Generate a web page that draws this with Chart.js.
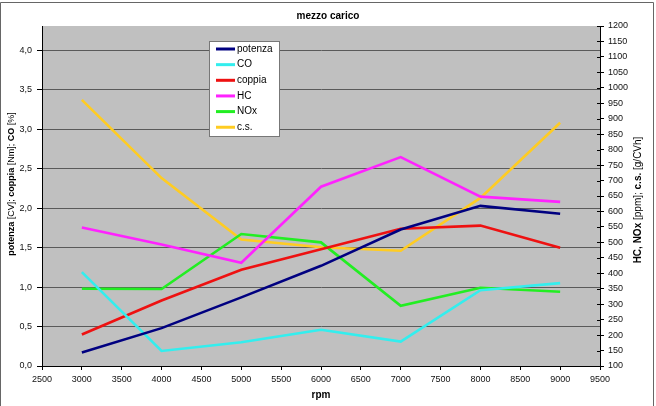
<!DOCTYPE html>
<html>
<head>
<meta charset="utf-8">
<script src="https://cdn.jsdelivr.net/npm/chart.js@4.4.0/dist/chart.umd.min.js"></script>
<style>
html,body{margin:0;padding:0;background:#fff;}
#wrap{position:relative;width:656px;height:406px;}
</style>
</head>
<body>
<div id="wrap"><canvas id="c" width="656" height="406"></canvas></div>
<script>
// ---- data ----
const rpm     = [3000, 4000, 5000, 6000, 7000, 8000, 9000];
const potenza = [0.17, 0.48, 0.87, 1.27, 1.73, 2.03, 1.93];
const CO      = [1.19, 0.19, 0.30, 0.46, 0.31, 0.96, 1.05];
const coppia  = [0.40, 0.83, 1.22, 1.48, 1.74, 1.78, 1.50];
const HC      = [548, 493, 434, 680, 776, 648, 631];
const NOx     = [350, 349, 527, 500, 295, 353, 340];
const cs      = [961, 708, 509, 484, 473, 644, 887];

const seriesNames  = ['potenza', 'CO', 'coppia', 'HC', 'NOx', 'c.s.'];
const seriesValues = [potenza, CO, coppia, HC, NOx, cs];
const seriesAxis   = ['y', 'y', 'y', 'y2', 'y2', 'y2'];
const seriesColors = ['#000080', '#33eeee', '#ee1111', '#ff22ff', '#22ee22', '#ffcc22'];

const titleText = 'mezzo carico';
const xTitle = 'rpm';
const leftTitle  = [['potenza', true], [' [CV]; ', false], ['coppia', true], [' [Nm]; ', false], ['CO', true], [' [%]', false]];
const rightTitle = [['HC, NOx', true], [' [ppm]; ', false], ['c.s.', true], [' [g/CVh]', false]];

const FF = '"Liberation Sans", Arial, sans-serif';
Chart.defaults.font.family = FF;
Chart.defaults.font.size = 9;
Chart.defaults.color = '#111';

function drawMixed(ctx, parts, cx, cy, size) {
  ctx.save();
  ctx.translate(cx, cy);
  ctx.rotate(-Math.PI / 2);
  let total = 0;
  const widths = parts.map(([t, b]) => {
    ctx.font = (b ? 'bold ' : '') + size + 'px ' + FF;
    const w = ctx.measureText(t).width; total += w; return w;
  });
  let x = -total / 2;
  ctx.textBaseline = 'middle';
  ctx.textAlign = 'left';
  ctx.fillStyle = '#000';
  parts.forEach(([t, b], i) => {
    ctx.font = (b ? 'bold ' : '') + size + 'px ' + FF;
    ctx.fillText(t, x, 0);
    x += widths[i];
  });
  ctx.restore();
}

const deco = {
  id: 'deco',
  beforeDraw(chart) {
    const { ctx, chartArea: a } = chart;
    ctx.save();
    ctx.fillStyle = '#fff';
    ctx.fillRect(0, 0, chart.width, chart.height);
    ctx.fillStyle = '#c0c0c0';
    ctx.fillRect(a.left, a.top, a.right - a.left, a.bottom - a.top);
    ctx.restore();
  },
  afterDraw(chart) {
    const { ctx, chartArea: a } = chart;
    ctx.save();
    // outer border
    ctx.strokeStyle = '#666';
    ctx.lineWidth = 1;
    ctx.beginPath();
    ctx.moveTo(0.5, chart.height + 5);
    ctx.lineTo(0.5, 2.5);
    ctx.lineTo(653.5, 2.5);
    ctx.lineTo(653.5, chart.height + 5);
    ctx.stroke();
    // inner ticks on right axis
    const y2 = chart.scales.y2;
    ctx.strokeStyle = '#000';
    ctx.beginPath();
    y2.ticks.forEach(t => {
      const yy = Math.round(y2.getPixelForValue(t.value)) + 0.5;
      ctx.moveTo(a.right - 3, yy); ctx.lineTo(a.right, yy);
    });
    ctx.stroke();
    // title
    ctx.fillStyle = '#000';
    ctx.font = 'bold 10px ' + FF;
    ctx.textAlign = 'center';
    ctx.textBaseline = 'middle';
    ctx.fillText(titleText, 328, 16);
    ctx.fillText(xTitle, (a.left + a.right) / 2, 395);
    // axis titles
    drawMixed(ctx, leftTitle, 12, 184, 9);
    drawMixed(ctx, rightTitle, 638, 200, 10);
    // legend
    const lx = 209, ly = 41, lw = 70, lh = 95;
    ctx.fillStyle = '#fff';
    ctx.fillRect(lx, ly, lw, lh);
    ctx.strokeStyle = '#777';
    ctx.strokeRect(lx + 0.5, ly + 0.5, lw, lh);
    ctx.font = '10px ' + FF;
    ctx.textAlign = 'left';
    ctx.textBaseline = 'middle';
    chart.data.datasets.forEach((ds, i) => {
      const yy = 49 + i * 15.65;
      ctx.strokeStyle = ds.borderColor;
      ctx.lineWidth = 3;
      ctx.beginPath();
      ctx.moveTo(216, yy); ctx.lineTo(235, yy);
      ctx.stroke();
      ctx.fillStyle = '#000';
      ctx.fillText(ds.label, 237, yy);
    });
    ctx.restore();
  }
};

const datasets = seriesNames.map((name, i) => ({
  label: name,
  data: rpm.map((x, j) => ({ x: x, y: seriesValues[i][j] })),
  yAxisID: seriesAxis[i],
  borderColor: seriesColors[i],
  backgroundColor: seriesColors[i],
  borderWidth: 2.6,
  pointRadius: 0,
  tension: 0,
  fill: false
}));

new Chart(document.getElementById('c'), {
  type: 'line',
  data: { datasets },
  plugins: [deco],
  options: {
    responsive: false,
    animation: false,
    layout: { padding: { top: 26, left: 0, right: 0, bottom: 0 } },
    plugins: { legend: { display: false }, title: { display: false }, tooltip: { enabled: false } },
    scales: {
      x: {
        type: 'linear', min: 2500, max: 9500,
        ticks: { stepSize: 500, callback: v => String(v), padding: 4, maxRotation: 0, autoSkip: false, color: '#111' },
        grid: { display: true, drawOnChartArea: false, tickLength: 4, tickColor: '#000' },
        border: { display: true, color: '#000' },
        afterFit: s => { s.height = 40; }
      },
      y: {
        type: 'linear', position: 'left', min: 0, max: 4.31,
        ticks: { stepSize: 0.5, callback: v => v.toFixed(1).replace('.', ','), padding: 5, color: '#111' },
        afterBuildTicks: s => { s.ticks = s.ticks.filter(t => Math.abs(t.value * 2 - Math.round(t.value * 2)) < 1e-6); },
        grid: { color: '#5a5a5a', tickLength: 5, tickColor: '#000', lineWidth: 1 },
        border: { display: true, color: '#000' },
        afterFit: s => { s.width = 42; }
      },
      y2: {
        type: 'linear', position: 'right', min: 100, max: 1200,
        ticks: { stepSize: 50, callback: v => String(v), padding: 4, autoSkip: false, color: '#111' },
        grid: { display: true, drawOnChartArea: false, tickLength: 4, tickColor: '#000' },
        border: { display: true, color: '#000' },
        afterFit: s => { s.width = 56; }
      }
    }
  }
});
</script>
</body>
</html>
